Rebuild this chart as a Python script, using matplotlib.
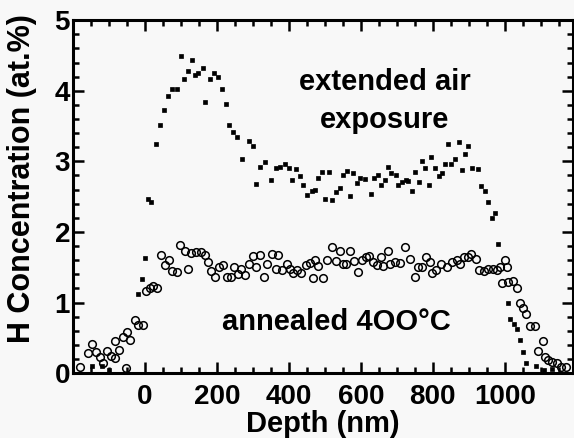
import matplotlib
matplotlib.use("Agg")
from matplotlib import pyplot as plt
from matplotlib.ticker import MultipleLocator

# extended air exposure (small filled markers)
ext_depth = [-146, -120, -99, -20, -9, 0, 10, 16,
             32, 42, 54, 65, 74, 88, 99, 108, 120, 130, 139, 148, 162, 168, 182, 193, 202,
             213, 224, 234, 245, 257, 271, 289, 299, 308, 319, 333, 349, 364, 375, 389,
             401, 410, 419, 430, 440, 451, 463, 472, 481, 491, 500, 512, 521, 531, 542,
             551, 562, 569, 579, 588, 599, 611, 627, 636, 648, 657, 667, 676, 685, 697,
             704, 713, 725, 731, 741, 750, 762, 769, 778, 789, 796, 806, 817, 826, 833,
             843, 850, 861, 872, 880, 889, 898, 910, 926, 935, 944, 953, 963, 972, 981,
             1009, 1014, 1026, 1034, 1042, 1051, 1060, 1086, 1110, 1130]
ext_conc = [0.10, 0.10, 0.04, 1.12, 1.34, 1.63, 2.46, 2.43,
            3.24, 3.51, 3.73, 3.92, 4.03, 4.02, 4.49, 4.16, 4.28, 4.44, 4.22, 4.25, 4.32, 3.84, 4.16, 4.25, 4.20,
            4.03, 3.81, 3.51, 3.42, 3.34, 3.04, 3.29, 3.22, 2.68, 2.92, 2.99, 2.73, 2.90, 2.92, 2.96,
            2.90, 2.73, 2.89, 2.79, 2.67, 2.52, 2.58, 2.60, 2.77, 2.85, 2.47, 2.85, 2.45, 2.57, 2.62,
            2.81, 2.87, 2.51, 2.84, 2.70, 2.76, 2.75, 2.54, 2.77, 2.80, 2.67, 2.73, 2.92, 2.84, 2.81,
            2.67, 2.71, 2.74, 2.72, 2.58, 2.85, 2.71, 3.01, 2.91, 2.67, 3.06, 2.90, 2.79, 2.83, 2.96,
            3.24, 2.96, 3.03, 3.28, 2.88, 3.11, 3.22, 2.90, 2.89, 2.65, 2.58, 2.43, 2.20, 2.27, 1.83,
            1.00, 0.77, 0.69, 0.62, 0.47, 0.30, 0.14, 0.10, 0.05, 0.06]

# annealed 400 C (open circles)
ann_depth = [-181, -157, -148, -136, -125, -116, -104, -93, -83, -83, -71, -62, -53, -51, -42,
             -28, -19, -6, 3, 14, 23, 34, 46, 56, 67, 74, 88, 97, 111, 120, 127, 142, 157,
             167, 176, 185, 194, 206, 218, 229, 238, 247, 259, 268, 278, 290, 301, 308, 321,
             331, 340, 352, 364, 370, 380, 394, 403, 412, 423, 435, 449, 460, 466, 472, 481,
             494, 505, 521, 532, 542, 551, 560, 571, 580, 593, 602, 614, 623, 634, 645, 657,
             662, 676, 680, 695, 710, 724, 736, 750, 759, 769, 782, 792, 799, 810, 824, 838,
             852, 866, 875, 886, 898, 907, 919, 929, 942, 954, 966, 977, 986, 991, 1000, 1006,
             1009, 1023, 1034, 1042, 1051, 1060, 1069, 1083, 1093, 1105, 1111, 1120, 1132,
             1144, 1157, 1171]
ann_conc = [0.09, 0.29, 0.41, 0.30, 0.23, 0.14, 0.31, 0.25, 0.21, 0.45, 0.33, 0.51, 0.07, 0.59, 0.47,
            0.75, 0.68, 0.68, 1.17, 1.20, 1.23, 1.21, 1.68, 1.53, 1.60, 1.45, 1.43, 1.82, 1.73, 1.48, 1.70, 1.72, 1.72,
            1.67, 1.57, 1.45, 1.36, 1.50, 1.53, 1.36, 1.36, 1.50, 1.40, 1.47, 1.39, 1.54, 1.66, 1.50, 1.68,
            1.36, 1.55, 1.69, 1.48, 1.68, 1.46, 1.55, 1.47, 1.42, 1.46, 1.42, 1.53, 1.56, 1.35, 1.61, 1.52,
            1.35, 1.60, 1.78, 1.59, 1.73, 1.55, 1.55, 1.73, 1.59, 1.43, 1.61, 1.64, 1.66, 1.58, 1.53, 1.65,
            1.52, 1.73, 1.55, 1.57, 1.56, 1.79, 1.62, 1.36, 1.51, 1.50, 1.64, 1.58, 1.42, 1.46, 1.55, 1.50,
            1.58, 1.60, 1.55, 1.65, 1.64, 1.69, 1.62, 1.46, 1.45, 1.47, 1.48, 1.46, 1.50, 1.28, 1.61, 1.50,
            1.29, 1.30, 1.20, 0.99, 0.93, 0.84, 0.67, 0.67, 0.31, 0.46, 0.23, 0.18, 0.16,
            0.14, 0.09, 0.09]

x_ticks = [0, 200, 400, 600, 800, 1000]
y_ticks = [0, 1, 2, 3, 4, 5]

bg = '#f8f8f8'
plt.rcParams['font.family'] = ['Liberation Sans', 'DejaVu Sans']
plt.rcParams['font.weight'] = 'bold'

fig = plt.figure(figsize=(5.74, 4.38), dpi=100, facecolor=bg)
ax = fig.add_axes([0.127, 0.148, 0.871, 0.806], facecolor=bg)

ax.plot(ann_depth, ann_conc, 'o', ms=5.5, mfc='none', mec='black', mew=1.1, clip_on=False)
ax.plot(ext_depth, ext_conc, 's', ms=2.6, mfc='black', mec='black', mew=0.5, clip_on=False)

ax.set_xlim(-200, 1189)
ax.set_ylim(0, 5)
ax.set_xticks(x_ticks)
ax.set_yticks(y_ticks)
ax.xaxis.set_minor_locator(MultipleLocator(50))
ax.yaxis.set_minor_locator(MultipleLocator(0.2))
ax.tick_params(which='both', direction='in', top=True, right=True, width=1.8, labelsize=20)
ax.tick_params(which='major', length=8)
ax.tick_params(which='minor', length=4)
ax.tick_params(axis='x', pad=8)
ax.tick_params(axis='y', pad=2)
for s in ax.spines.values():
    s.set_linewidth(2.2)

ax.set_xlabel("Depth (nm)", fontsize=21, fontweight='bold', labelpad=0)
ax.set_ylabel("H Concentration (at.%)", fontsize=22, fontweight='bold')
ax.yaxis.set_label_coords(-0.072, 0.55)

ax.text(667, 4.13, "extended air", fontsize=21, fontweight='bold', ha='center', va='center')
ax.text(667, 3.58, "exposure", fontsize=21, fontweight='bold', ha='center', va='center')
ax.text(533, 0.72, "annealed 4OO°C", fontsize=21, fontweight='bold', ha='center', va='center')

fig.savefig("out.png", dpi=100, facecolor=bg)
